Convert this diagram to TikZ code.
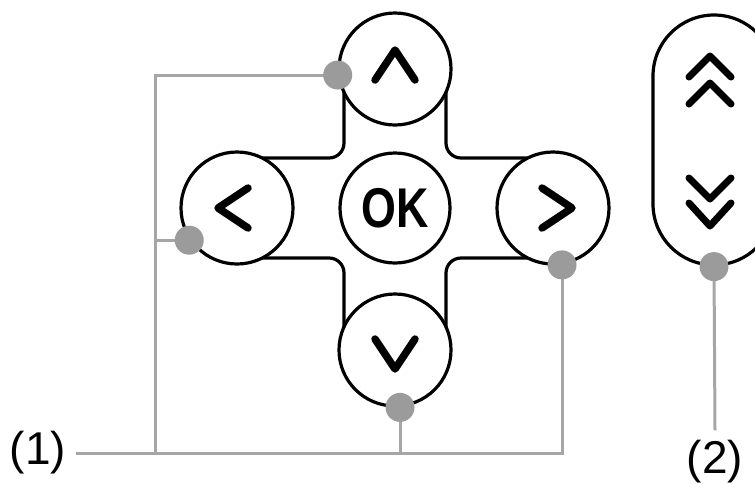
\documentclass[tikz,border=0pt]{standalone}
\usepackage{fontspec}
\setmainfont{Liberation Sans}
\definecolor{lg}{RGB}{166,166,166}
\definecolor{dg}{RGB}{155,155,155}
\begin{document}
\begin{tikzpicture}[x=1pt,y=-1pt,
  blk/.style={line width=3.2pt,draw=black},
  btn/.style={circle,blk,fill=white,minimum size=112pt,inner sep=0pt},
  chev/.style={line width=7.5pt,line cap=round,line join=round},
  dchev/.style={line width=7pt,line cap=round,line join=round},
  gline/.style={draw=lg,line width=3pt},
  gdot/.style={circle,fill=dg,inner sep=0pt,minimum size=29pt},
  lbl/.style={font=\fontsize{46}{46}\selectfont,inner xsep=10pt,inner ysep=10pt}]
\clip (0,0) rectangle (755,483);
% cross body
\draw[blk,fill=white,rounded corners=15pt] (344,69) -- (344,158) -- (237,158) -- (237,258) -- (344,258) -- (344,350) -- (446,350) -- (446,258) -- (553,258) -- (553,158) -- (446,158) -- (446,69) -- cycle;
% buttons
\node[btn] (up) at (395,69) {};
\node[btn] (left) at (237,208) {};
\node[btn] (right) at (553,208) {};
\node[btn] (down) at (395,350) {};
\node[btn,minimum size=110pt,font=\bfseries\fontsize{56}{56}\selectfont] (ok) at (395,208) {\scalebox{0.8}[1]{OK}};
% chevrons
\draw[chev] ([shift={(-20,11)}]up.center) -- ([shift={(0,-19)}]up.center) -- ([shift={(20,11)}]up.center);
\draw[chev] ([shift={(-20,-11)}]down.center) -- ([shift={(0,19)}]down.center) -- ([shift={(20,-11)}]down.center);
\draw[chev] ([shift={(11,-20)}]left.center) -- ([shift={(-19,0)}]left.center) -- ([shift={(11,20)}]left.center);
\draw[chev] ([shift={(-11,-20)}]right.center) -- ([shift={(19,0)}]right.center) -- ([shift={(-11,20)}]right.center);
% pill
\node[blk,fill=white,rounded corners=61pt,minimum width=122pt,minimum height=250pt,inner sep=0pt] (pill) at (714,140) {};
\draw[dchev] ([shift={(-25,-63)}]pill.center) -- ([shift={(-4,-84)}]pill.center) -- ([shift={(17,-63)}]pill.center);
\draw[dchev] ([shift={(-25,-36)}]pill.center) -- ([shift={(-4,-57)}]pill.center) -- ([shift={(17,-36)}]pill.center);
\draw[dchev] ([shift={(-25,38)}]pill.center) -- ([shift={(-4,59)}]pill.center) -- ([shift={(17,38)}]pill.center);
\draw[dchev] ([shift={(-25,63)}]pill.center) -- ([shift={(-4,86)}]pill.center) -- ([shift={(17,63)}]pill.center);
% labels
\node[lbl] (l1) at (38,453) {(1)};
\node[lbl] (l2) at (715,462) {(2)};
\coordinate (jL) at (155,453);
% connectors
\draw[gline] (l1.east) -| (right.279);
\draw[gline] (jL) |- (up.186);
\draw[gline] (left.214) -- (left.214 -| jL);
\draw[gline] (down.275) -- (down.275 |- jL);
\draw[gline] (pill.south) -- (l2.north);
% dots
\node[gdot] (dU) at (up.186) {};
\node[gdot] (dL) at (left.214) {};
\node[gdot] (dR) at (right.279) {};
\node[gdot] (dD) at (down.275) {};
\node[gdot] (dP) at (pill.south) {};
\end{tikzpicture}
\end{document}
